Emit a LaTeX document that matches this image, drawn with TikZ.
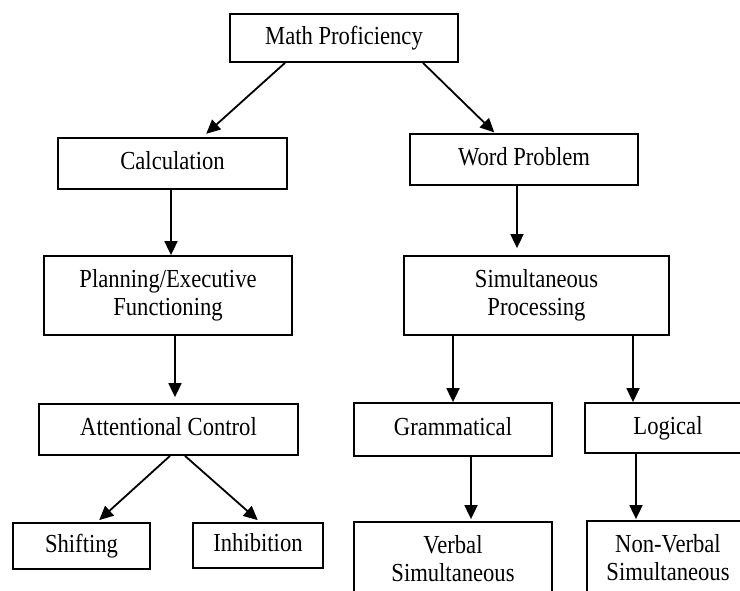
\documentclass[tikz,border=0pt]{standalone}
\usepackage{fontspec}
\setmainfont[FakeStretch=0.87]{Liberation Serif}
\usetikzlibrary{arrows.meta}
\tikzset{
  box/.style={draw=black, line width=1.8pt, rectangle, inner sep=0pt, align=center,
    font=\fontsize{26}{28}\selectfont},
  oneline/.style={text height=17.7pt, text depth=5.7pt},
  conn/.style={line width=1.8pt, -{Triangle[length=14pt,width=13pt]}}
}
\begin{document}
\begin{tikzpicture}[x=1pt,y=-1pt]
\useasboundingbox (0,0) rectangle (740,590);
\clip (0,0) rectangle (740,590);
\fill[white] (0,0) rectangle (740,590);
% nodes
\node[box, oneline, minimum width=228pt, minimum height=48pt] (math) at (344,38) {Math Proficiency};
\node[box, oneline, minimum width=229pt, minimum height=51pt] (calc) at (172.5,163.5) {Calculation};
\node[box, oneline, minimum width=228pt, minimum height=51pt] (word) at (524,159.5) {Word Problem};
\node[box, minimum width=248pt, minimum height=79pt] (plan) at (168,295.5) {Planning/Executive\\Functioning};
\node[box, minimum width=265pt, minimum height=79pt] (simul) at (536.5,295.5) {Simultaneous\\Processing};
\node[box, oneline, minimum width=259pt, minimum height=51pt] (attn) at (168.5,429.5) {Attentional Control};
\node[box, oneline, minimum width=198pt, minimum height=53pt] (gram) at (453,429.5) {Grammatical};
\node[box, oneline, minimum width=166pt, minimum height=50pt] (logic) at (668,428) {Logical};
\node[box, oneline, minimum width=137pt, minimum height=46pt] (shift) at (81.5,546) {Shifting};
\node[box, oneline, minimum width=130pt, minimum height=45pt] (inhib) at (258,545.5) {Inhibition};
\node[box, minimum width=198pt, minimum height=74pt] (verbal) at (453,559) {Verbal\\Simultaneous};
\node[box, minimum width=162pt, minimum height=74pt] (nonverbal) at (668,558) {Non-Verbal\\Simultaneous};
% connectors
\draw[conn, shorten >=5pt] ([xshift=-59pt]math.south) -- ([xshift=30pt]calc.north);
\draw[conn, shorten >=1pt] ([xshift=79pt]math.south) -- ([xshift=-29pt]word.north);
\draw[conn] ([xshift=-1.5pt]calc.south) -- ([xshift=-1.5pt]calc.south |- plan.north);
\draw[conn, shorten >=7pt] ([xshift=-7pt]word.south) -- ([xshift=-7pt]word.south |- simul.north);
\draw[conn, shorten >=6pt] ([xshift=7pt]plan.south) -- ([xshift=7pt]plan.south |- attn.north);
\draw[conn] (gram.north |- simul.south) -- (gram.north);
\draw[conn] ([xshift=-35pt]logic.north |- simul.south) -- ([xshift=-35pt]logic.north);
\draw[conn, shorten >=3pt] ([xshift=1.5pt]attn.south) -- ([xshift=15.5pt]shift.north);
\draw[conn, shorten >=3pt] ([xshift=16.5pt]attn.south) -- ([xshift=2pt]inhib.north);
\draw[conn, shorten >=2pt] ([xshift=18pt]gram.south) -- ([xshift=18pt]gram.south |- verbal.north);
\draw[conn, shorten >=1pt] ([xshift=-32pt]logic.south) -- ([xshift=-32pt]logic.south |- nonverbal.north);
\end{tikzpicture}
\end{document}
